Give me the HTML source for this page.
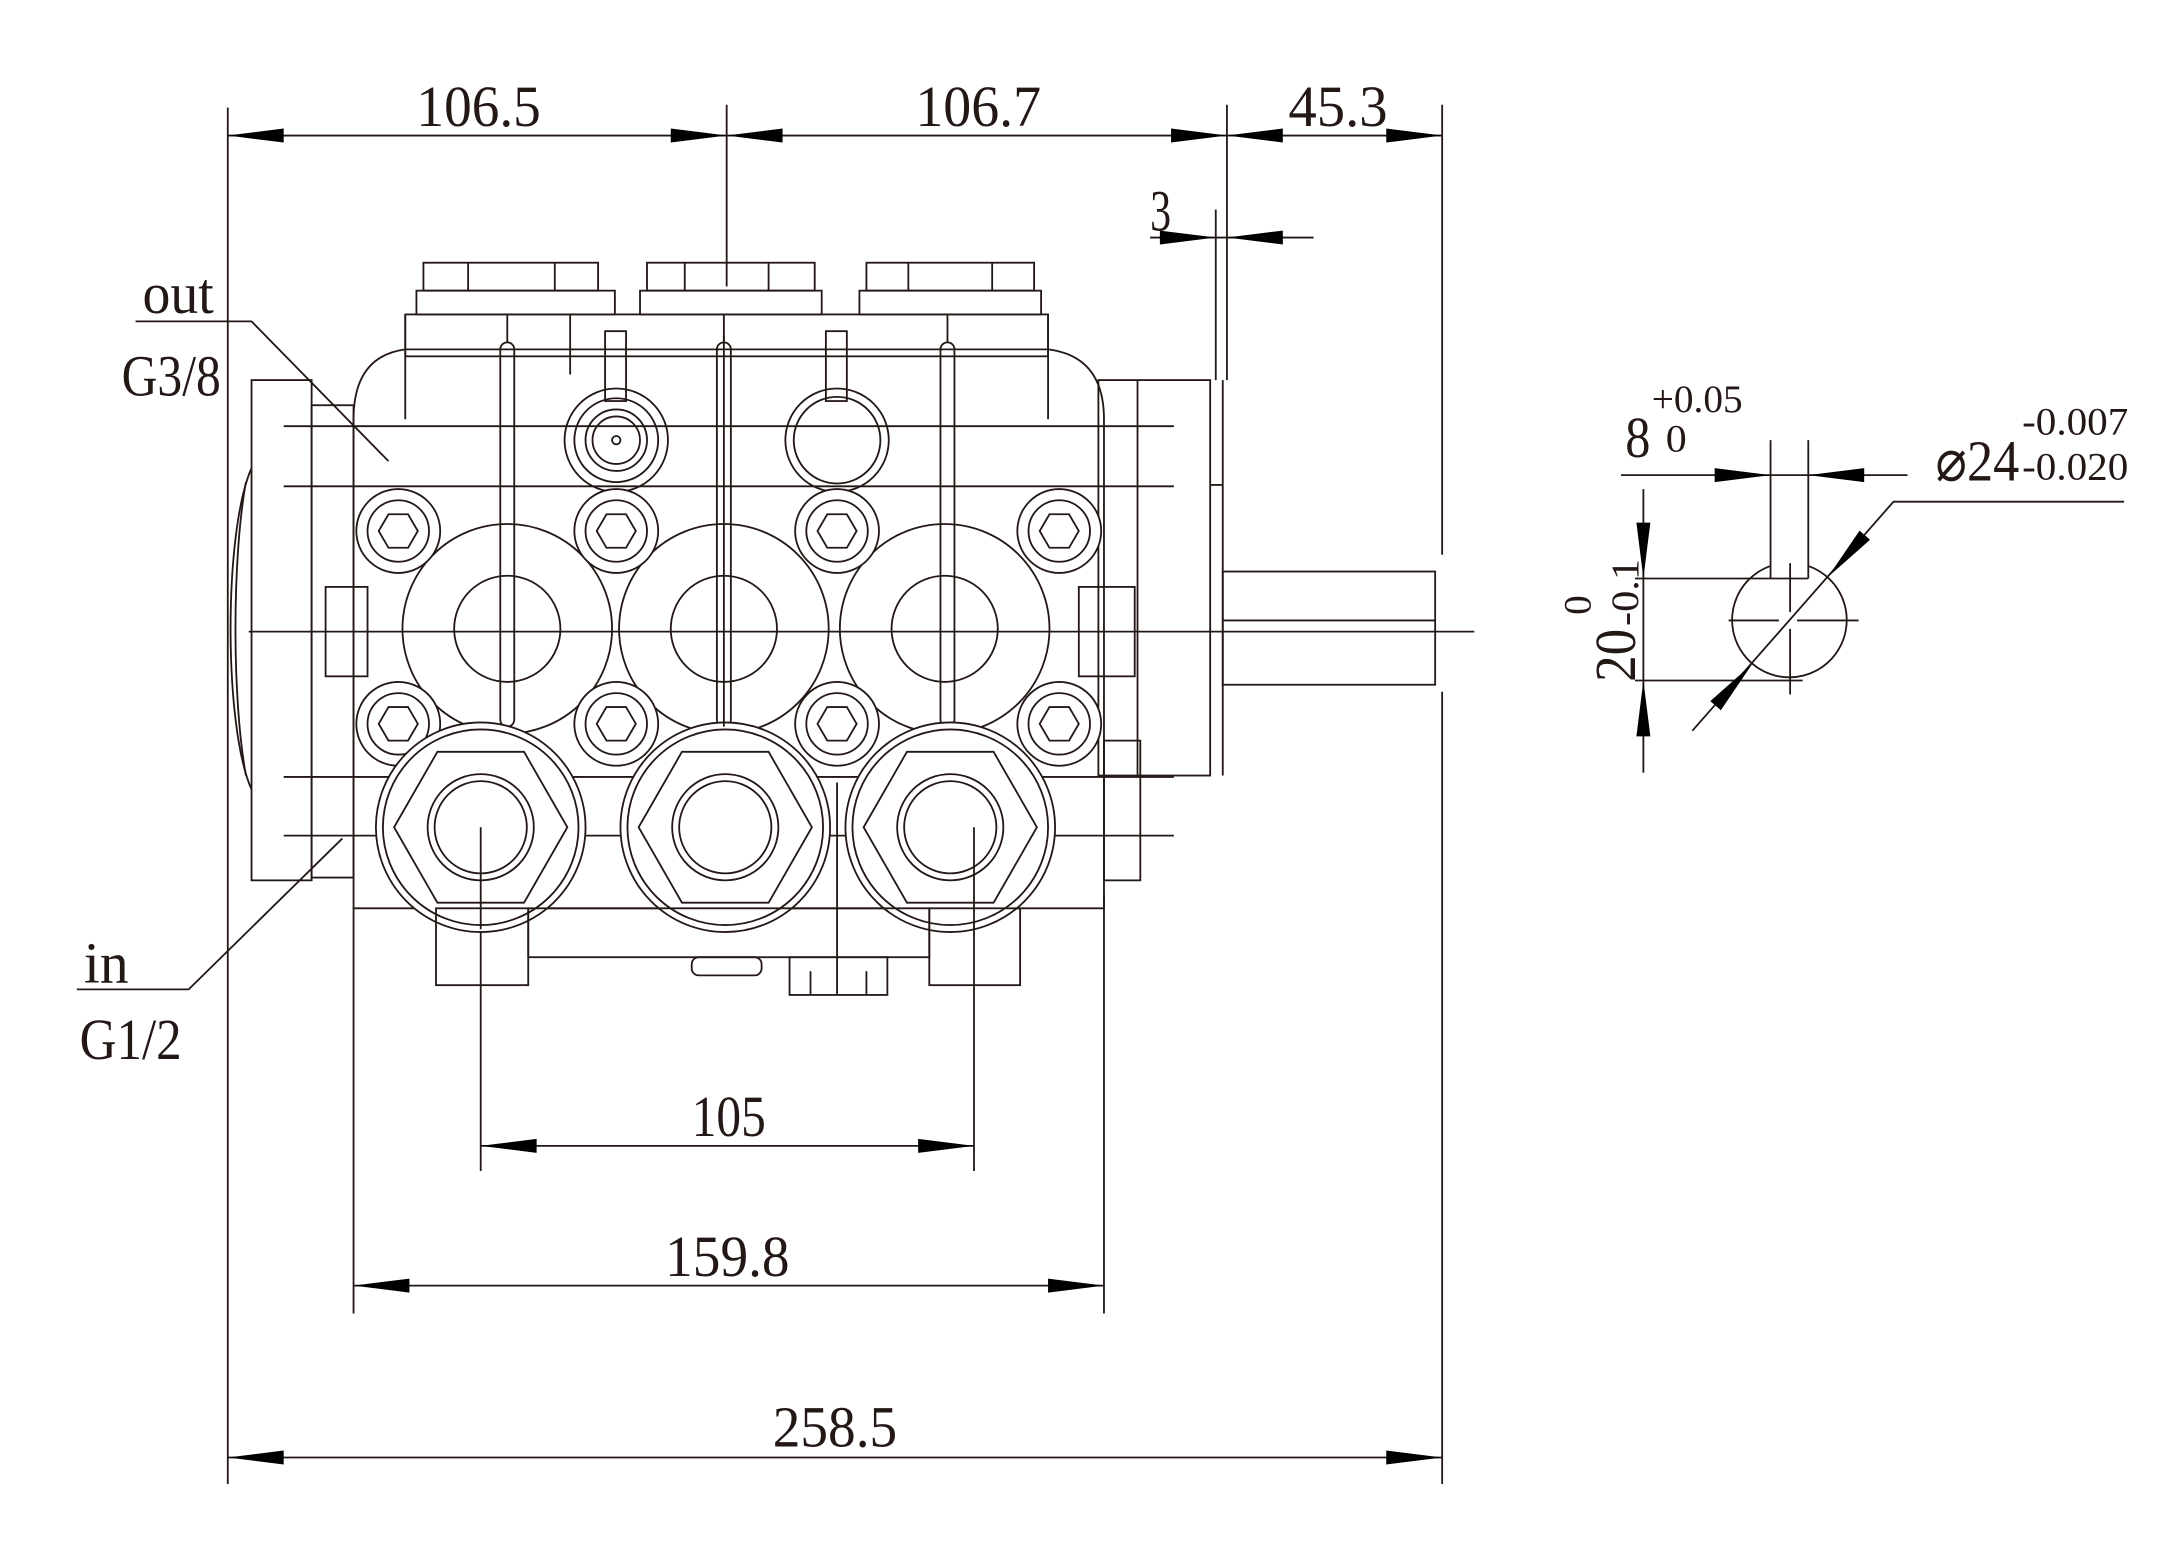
<!DOCTYPE html>
<html><head><meta charset="utf-8"><style>
html,body{margin:0;padding:0;background:#fff;}
svg{display:block}
text{font-family:"Liberation Serif",serif;fill:#231815;}
</style></head><body>
<svg width="2180" height="1562" viewBox="0 0 1560 1117.8" preserveAspectRatio="none" xmlns="http://www.w3.org/2000/svg">
<g stroke="#231815" stroke-width="1.3" fill="none">
<line x1="163" y1="77" x2="163" y2="1062"/>
<line x1="520" y1="75" x2="520" y2="205"/>
<line x1="878" y1="75" x2="878" y2="272"/>
<line x1="1032" y1="75" x2="1032" y2="397"/>
<line x1="1032" y1="495" x2="1032" y2="1062"/>
<line x1="870" y1="150" x2="870" y2="272"/>
<line x1="253" y1="650" x2="253" y2="940"/>
<line x1="790" y1="640" x2="790" y2="940"/>
<line x1="344" y1="665" x2="344" y2="838"/>
<line x1="697" y1="665" x2="697" y2="838"/>
<line x1="163" y1="97" x2="1032" y2="97"/>
<line x1="823" y1="170" x2="940" y2="170"/>
<line x1="344" y1="820" x2="697" y2="820"/>
<line x1="253" y1="920" x2="790" y2="920"/>
<line x1="163" y1="1043" x2="1032" y2="1043"/>
<polyline points="97,230 180,230 278,330"/>
<polyline points="55,708 135,708 245,600"/>
<line x1="178" y1="452" x2="1055" y2="452"/>
<line x1="203" y1="305" x2="840" y2="305"/>
<line x1="203" y1="348" x2="840" y2="348"/>
<line x1="203" y1="556" x2="840" y2="556"/>
<line x1="203" y1="598" x2="840" y2="598"/>

<path d="M180,335 C160,380 160,520 180,565"/>
<path d="M176,345 C166,400 166,500 176,555"/>
<rect x="180" y="272" width="43" height="358"/>
<rect x="223" y="290" width="30" height="338"/>
<rect x="233" y="420" width="30" height="64"/>
<rect x="786" y="272" width="80" height="283"/>
<line x1="814" y1="272" x2="814" y2="555"/>
<line x1="866" y1="347" x2="875" y2="347"/>
<line x1="875" y1="272" x2="875" y2="555"/>
<rect x="772" y="420" width="40" height="64"/>
<rect x="790" y="530" width="26" height="100"/>
<rect x="875" y="409" width="152" height="81"/>
<line x1="875" y1="444" x2="1027" y2="444"/>

<path d="M253,650 L253,300 Q253,255 290,250 L750,250 Q790,255 790,300 L790,650 Z"/>
<rect x="290" y="225" width="460" height="30"/>
<line x1="290" y1="225" x2="290" y2="300"/>
<line x1="750" y1="225" x2="750" y2="300"/>
<rect x="298" y="208" width="142" height="17"/><rect x="303" y="188" width="125" height="20"/>
<line x1="335" y1="188" x2="335" y2="208"/><line x1="397" y1="188" x2="397" y2="208"/>
<rect x="458" y="208" width="130" height="17"/><rect x="463" y="188" width="120" height="20"/>
<line x1="490" y1="188" x2="490" y2="208"/><line x1="550" y1="188" x2="550" y2="208"/>
<rect x="615" y="208" width="130" height="17"/><rect x="620" y="188" width="120" height="20"/>
<line x1="650" y1="188" x2="650" y2="208"/><line x1="710" y1="188" x2="710" y2="208"/>
<line x1="408" y1="225" x2="408" y2="268"/>
<rect x="433" y="237" width="15" height="50"/><rect x="591" y="237" width="15" height="50"/>
<rect x="358" y="245" width="10" height="275" rx="5"/><line x1="363" y1="225" x2="363" y2="245"/>
<rect x="513" y="245" width="10" height="275" rx="5"/><line x1="518" y1="225" x2="518" y2="245"/>
<rect x="673" y="245" width="10" height="275" rx="5"/><line x1="678" y1="225" x2="678" y2="245"/>
<circle cx="441" cy="315" r="37"/><circle cx="441" cy="315" r="30"/><circle cx="441" cy="315" r="22"/><circle cx="441" cy="315" r="17"/><circle cx="441" cy="315" r="3"/>
<circle cx="599" cy="315" r="37"/><circle cx="599" cy="315" r="31"/>
<circle cx="363" cy="450" r="75"/><circle cx="363" cy="450" r="38"/>
<circle cx="518" cy="450" r="75"/><circle cx="518" cy="450" r="38"/>
<circle cx="676" cy="450" r="75"/><circle cx="676" cy="450" r="38"/>
<g fill="#fff">
<circle cx="285" cy="380" r="30"/><circle cx="285" cy="380" r="22"/><polygon points="271,380 278,368 292,368 299,380 292,392 278,392"/>
<circle cx="441" cy="380" r="30"/><circle cx="441" cy="380" r="22"/><polygon points="427,380 434,368 448,368 455,380 448,392 434,392"/>
<circle cx="599" cy="380" r="30"/><circle cx="599" cy="380" r="22"/><polygon points="585,380 592,368 606,368 613,380 606,392 592,392"/>
<circle cx="758" cy="380" r="30"/><circle cx="758" cy="380" r="22"/><polygon points="744,380 751,368 765,368 772,380 765,392 751,392"/>
<circle cx="285" cy="518" r="30"/><circle cx="285" cy="518" r="22"/><polygon points="271,518 278,506 292,506 299,518 292,530 278,530"/>
<circle cx="441" cy="518" r="30"/><circle cx="441" cy="518" r="22"/><polygon points="427,518 434,506 448,506 455,518 448,530 434,530"/>
<circle cx="599" cy="518" r="30"/><circle cx="599" cy="518" r="22"/><polygon points="585,518 592,506 606,506 613,518 606,530 592,530"/>
<circle cx="758" cy="518" r="30"/><circle cx="758" cy="518" r="22"/><polygon points="744,518 751,506 765,506 772,518 765,530 751,530"/>
<circle cx="344" cy="592" r="75"/><circle cx="344" cy="592" r="70"/>
<circle cx="519" cy="592" r="75"/><circle cx="519" cy="592" r="70"/>
<circle cx="680" cy="592" r="75"/><circle cx="680" cy="592" r="70"/>
</g>
<polygon points="282,592 313,538 375,538 406,592 375,646 313,646"/><circle cx="344" cy="592" r="38"/><circle cx="344" cy="592" r="33"/>
<polygon points="457,592 488,538 550,538 581,592 550,646 488,646"/><circle cx="519" cy="592" r="38"/><circle cx="519" cy="592" r="33"/>
<polygon points="618,592 649,538 711,538 742,592 711,646 649,646"/><circle cx="680" cy="592" r="38"/><circle cx="680" cy="592" r="33"/>
<line x1="344" y1="592" x2="344" y2="665"/><line x1="697" y1="592" x2="697" y2="665"/>
<line x1="518" y1="240" x2="518" y2="520"/>
<line x1="599" y1="560" x2="599" y2="712"/>
<rect x="312" y="650" width="66" height="55"/>
<rect x="665" y="650" width="65" height="55"/>
<rect x="378" y="650" width="287" height="35"/>
<rect x="495" y="685" width="50" height="13" rx="5"/>
<rect x="565" y="685" width="70" height="27"/>
<line x1="580" y1="695" x2="580" y2="712"/><line x1="620" y1="695" x2="620" y2="712"/>

<line x1="1160" y1="340" x2="1365" y2="340"/>
<line x1="1267" y1="315" x2="1267" y2="414"/>
<line x1="1294" y1="315" x2="1294" y2="414"/>
<line x1="1267" y1="414" x2="1294" y2="414"/>
<path d="M1267,405 A41,41 0 1 0 1294,405"/>
<line x1="1176" y1="350" x2="1176" y2="553"/>
<line x1="1170" y1="414" x2="1267" y2="414"/>
<line x1="1170" y1="487" x2="1290" y2="487"/>
<line x1="1237" y1="444" x2="1273" y2="444"/><line x1="1286" y1="444" x2="1330" y2="444"/>
<line x1="1281" y1="403" x2="1281" y2="438"/><line x1="1281" y1="450" x2="1281" y2="497"/>
<polyline points="1211,523 1355,359 1520,359"/>
</g>

<g fill="#000">
<polygon points="163,97 203,92 203,102"/>
<polygon points="520,97 480,92 480,102"/>
<polygon points="520,97 560,92 560,102"/>
<polygon points="878,97 838,92 838,102"/>
<polygon points="878,97 918,92 918,102"/>
<polygon points="1032,97 992,92 992,102"/>
<polygon points="870,170 830,165 830,175"/>
<polygon points="878,170 918,165 918,175"/>
<polygon points="344,820 384,815 384,825"/>
<polygon points="697,820 657,815 657,825"/>
<polygon points="253,920 293,915 293,925"/>
<polygon points="790,920 750,915 750,925"/>
<polygon points="163,1043 203,1038 203,1048"/>
<polygon points="1032,1043 992,1038 992,1048"/>
<polygon points="1267,340 1227,335 1227,345"/>
<polygon points="1294,340 1334,335 1334,345"/>
<polygon points="1176,414 1171,374 1181,374"/>
<polygon points="1176,487 1171,527 1181,527"/>
<polygon points="1254,475 1231.4,508.3 1223.9,501.7"/>
<polygon points="1308,413 1338.2,386.3 1330.7,379.7"/>
</g>

<g font-size="42">
<text x="298" y="90" textLength="89" lengthAdjust="spacingAndGlyphs">106.5</text>
<text x="655" y="90" textLength="90" lengthAdjust="spacingAndGlyphs">106.7</text>
<text x="922" y="90" textLength="71" lengthAdjust="spacingAndGlyphs">45.3</text>
<text x="823" y="165" textLength="15" lengthAdjust="spacingAndGlyphs">3</text>
<text x="495" y="813" textLength="53" lengthAdjust="spacingAndGlyphs">105</text>
<text x="476" y="913" textLength="89" lengthAdjust="spacingAndGlyphs">159.8</text>
<text x="553" y="1035" textLength="89" lengthAdjust="spacingAndGlyphs">258.5</text>
<text x="102" y="224" textLength="51" lengthAdjust="spacingAndGlyphs">out</text>
<text x="87" y="283" textLength="71" lengthAdjust="spacingAndGlyphs">G3/8</text>
<text x="60" y="703" textLength="32" lengthAdjust="spacingAndGlyphs">in</text>
<text x="57" y="758" textLength="73" lengthAdjust="spacingAndGlyphs">G1/2</text>
<text x="1163" y="327" textLength="18" lengthAdjust="spacingAndGlyphs">8</text>
<text x="1385" y="344" textLength="60" lengthAdjust="spacingAndGlyphs">⌀24</text>
<text transform="translate(1170,488) rotate(-90)" textLength="38" lengthAdjust="spacingAndGlyphs">20</text>
</g>
<g font-size="28">
<text x="1182" y="295" textLength="65" lengthAdjust="spacingAndGlyphs">+0.05</text>
<text x="1192" y="323" textLength="15" lengthAdjust="spacingAndGlyphs">0</text>
<text x="1447" y="311" textLength="76" lengthAdjust="spacingAndGlyphs">-0.007</text>
<text x="1447" y="343" textLength="76" lengthAdjust="spacingAndGlyphs">-0.020</text>
<text transform="translate(1172,448) rotate(-90)" textLength="48" lengthAdjust="spacingAndGlyphs">-0.1</text>
<text transform="translate(1138,440) rotate(-90)" textLength="14" lengthAdjust="spacingAndGlyphs">0</text>
</g>
</svg>
</body></html>
